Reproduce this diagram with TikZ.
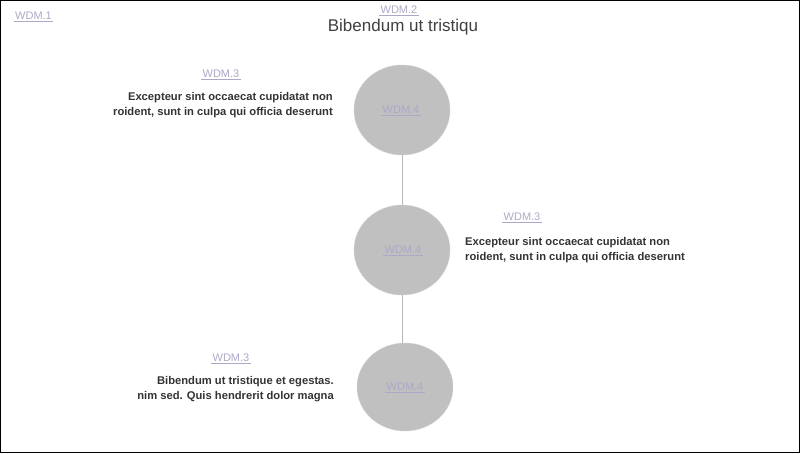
\documentclass[tikz,border=0pt]{standalone}
\usepackage{fontspec}
\setmainfont{Liberation Sans}
\usetikzlibrary{positioning}
\newcommand{\mylinkcol}{linkgray}
\definecolor{linkgray}{HTML}{ADA8C8}
\definecolor{textgray}{HTML}{333333}
\definecolor{bubblegray}{HTML}{C0C0C0}
\tikzset{
  wdm/.style = {text = \mylinkcol, font = \fontsize{11}{12}\selectfont, inner sep = 1pt},
  wdmline/.style = {\mylinkcol, line width = .8pt},
  body/.style = {text = textgray, font = \bfseries\fontsize{11.2}{15}\selectfont, inner sep = 0pt},
}
\begin{document}
\begin{tikzpicture}[x = 1pt, y = -1pt]
\useasboundingbox (0,0) rectangle (800,453);
\draw[black, line width = 1pt] (0.5,0.5) rectangle (799.5,452.5);
% bubbles
\draw[draw = black!18, fill = bubblegray] (402,110) ellipse (48 and 45);
\draw[draw = black!18, fill = bubblegray] (402,250) ellipse (48 and 45);
\draw[draw = black!18, fill = bubblegray] (405,387) ellipse (48 and 44);
\coordinate (b1s) at (402,155);
\coordinate (b2n) at (402,205);
\coordinate (b2s) at (402,295);
\coordinate (b3n) at (402,343);
\draw[black!28] (b1s) -- (b2n);
\draw[black!28] (b2s) -- (b3n);
% header
\node[wdm, anchor = west] (w1) at (14,16) {WDM.1};
\draw[wdmline] (w1.south west) -- (w1.south east);
\node[wdm] (w2) at (399,10) {WDM.2};
\draw[wdmline] (w2.south west) -- (w2.south east);
\node[text = black!75, font = \fontsize{17}{19}\selectfont] (title) at (403,27) {Bibendum ut tristiqu};
% bubble labels
\node[wdm] (c1) at (401,110) {WDM.4};
\draw[wdmline] (c1.south west) -- (c1.south east);
\node[wdm] (c2) at (403,250) {WDM.4};
\draw[wdmline] (c2.south west) -- (c2.south east);
\node[wdm] (c3) at (405,387) {WDM.4};
\draw[wdmline] (c3.south west) -- (c3.south east);
% side texts
\node[wdm] (t1) at (221,74) {WDM.3};
\draw[wdmline] (t1.south west) -- (t1.south east);
\node[body, anchor = north east, align = right] (d1) at (333,92) {Excepteur sint occaecat cupidatat non\\roident, sunt in culpa qui officia deserunt};
\node[wdm] (t2) at (522,217) {WDM.3};
\draw[wdmline] (t2.south west) -- (t2.south east);
\node[body, anchor = north west, align = left] (d2) at (465,237) {Excepteur sint occaecat cupidatat non\\roident, sunt in culpa qui officia deserunt};
\node[wdm] (t3) at (231,358) {WDM.3};
\draw[wdmline] (t3.south west) -- (t3.south east);
\node[body, anchor = north east, align = right] (d3) at (334,376) {Bibendum ut tristique et egestas.\\nim sed. Quis hendrerit dolor magna};
\end{tikzpicture}
\end{document}
